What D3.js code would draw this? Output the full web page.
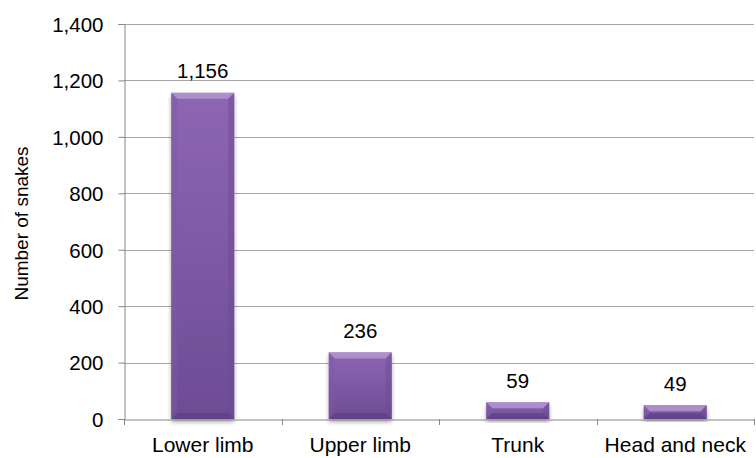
<!DOCTYPE html>
<html>
<head>
<meta charset="utf-8">
<script src="https://cdn.jsdelivr.net/npm/d3@7"></script>
<style>
  html, body { margin: 0; padding: 0; background: #fff; }
  svg { display: block; font-family: "Liberation Sans", Arial, sans-serif; }
</style>
</head>
<body>
<svg id="chart" width="756" height="458"></svg>
<script>
// Bite site of snakes
const categories = ["Lower limb", "Upper limb", "Trunk", "Head and neck"];
const counts = [1156, 236, 59, 49];
const yTicks = [0, 200, 400, 600, 800, 1000, 1200, 1400];

const svg = d3.select("#chart");
const margin = { left: 124, right: 2, top: 24, bottom: 39 };
const W = 756, H = 458;
const FONT = "Liberation Sans, Arial, sans-serif";

const x = d3.scaleBand()
  .domain(categories)
  .range([margin.left, W - margin.right])
  .paddingInner(0.6)
  .paddingOuter(0.3);

const y = d3.scaleLinear()
  .domain([0, 1400])
  .range([H - margin.bottom, margin.top]);

const fmt = d3.format(",");

// defs: bar gradient and shadow
const defs = svg.append("defs");
const grad = defs.append("linearGradient")
  .attr("id", "barFill").attr("x1", 0).attr("y1", 0).attr("x2", 0).attr("y2", 1);
grad.append("stop").attr("offset", "0%").attr("stop-color", "#8e66b3");
grad.append("stop").attr("offset", "100%").attr("stop-color", "#6d4c94");

const shadow = defs.append("filter").attr("id", "shadow")
  .attr("x", "-20%").attr("y", "-20%").attr("width", "140%").attr("height", "140%");
shadow.append("feGaussianBlur").attr("in", "SourceAlpha").attr("stdDeviation", 2.2);
shadow.append("feOffset").attr("dx", 0).attr("dy", 3).attr("result", "blur");
shadow.append("feComponentTransfer").append("feFuncA").attr("type", "linear").attr("slope", 0.35);
const merge = shadow.append("feMerge");
merge.append("feMergeNode");
merge.append("feMergeNode").attr("in", "SourceGraphic");

// gridlines
svg.append("g")
  .selectAll("line")
  .data(yTicks.filter(d => d > 0))
  .join("line")
  .attr("x1", margin.left).attr("x2", W - margin.right)
  .attr("y1", d => Math.round(y(d)) + 0.5).attr("y2", d => Math.round(y(d)) + 0.5)
  .attr("stroke", "#a6a6a6").attr("stroke-width", 1);

// y axis
const yAxis = svg.append("g")
  .attr("transform", `translate(${margin.left + 0.5},0)`)
  .call(d3.axisLeft(y).tickValues(yTicks).tickFormat(fmt).tickSize(6).tickPadding(15));
yAxis.select(".domain").attr("stroke", "#868686");
yAxis.selectAll(".tick line").attr("stroke", "#868686");
yAxis.selectAll(".tick text").attr("font-size", 20.5).attr("fill", "#000")
  .attr("font-family", FONT).attr("dy", "0.36em");

// bars
const bars = svg.append("g").selectAll("g.bar")
  .data(categories.map((c, i) => ({ c, v: counts[i] })))
  .join("g").attr("class", "bar");

bars.append("rect")
  .attr("x", d => x(d.c))
  .attr("y", d => y(d.v))
  .attr("width", x.bandwidth())
  .attr("height", d => y(0) - y(d.v))
  .attr("fill", "url(#barFill)")
  .attr("filter", "url(#shadow)");

// bevel edges: light top, shaded sides and bottom
bars.each(function (d) {
  const g = d3.select(this);
  const x0 = x(d.c), x1 = x0 + x.bandwidth();
  const top = y(d.v), bot = y(0);
  const b = Math.min(6, (bot - top) / 2);
  g.append("path")
    .attr("d", `M${x0},${top}L${x1},${top}L${x1 - b},${top + b}L${x0 + b},${top + b}Z`)
    .attr("fill", "#b196cf").attr("opacity", 0.85);
  g.append("path")
    .attr("d", `M${x0},${top}L${x0 + b},${top + b}L${x0 + b},${bot - b}L${x0},${bot}Z`)
    .attr("fill", "#7d5aa3").attr("opacity", 0.45);
  g.append("path")
    .attr("d", `M${x1},${top}L${x1 - b},${top + b}L${x1 - b},${bot - b}L${x1},${bot}Z`)
    .attr("fill", "#6a4b90").attr("opacity", 0.45);
  g.append("path")
    .attr("d", `M${x0},${bot}L${x1},${bot}L${x1 - b},${bot - b}L${x0 + b},${bot - b}Z`)
    .attr("fill", "#5a3d7e").attr("opacity", 0.55);
});

// value labels
bars.append("text")
  .attr("x", d => x(d.c) + x.bandwidth() / 2)
  .attr("y", d => y(d.v) - 14.5)
  .attr("text-anchor", "middle")
  .attr("font-size", 20.5)
  .attr("fill", "#000")
  .text(d => fmt(d.v));

// x axis
const xAxis = svg.append("g")
  .attr("transform", `translate(0,${Math.round(y(0)) + 0.5})`)
  .call(d3.axisBottom(x).tickSize(0).tickPadding(0));
xAxis.select(".domain").attr("stroke", "#868686");
xAxis.selectAll(".tick text").attr("font-size", 21).attr("fill", "#000")
  .attr("font-family", FONT).attr("dy", 0).attr("y", 32.5);

// tick marks at category boundaries
const step = x.step();
const bounds = d3.range(categories.length + 1).map(i => margin.left + i * step);
svg.append("g").selectAll("line").data(bounds).join("line")
  .attr("x1", d => Math.round(d) + 0.5).attr("x2", d => Math.round(d) + 0.5)
  .attr("y1", Math.round(y(0))).attr("y2", Math.round(y(0)) + 6)
  .attr("stroke", "#868686");

// y axis title
svg.append("text")
  .attr("transform", `translate(27.5,${(y(0) + y(1400)) / 2 + 2}) rotate(-90)`)
  .attr("text-anchor", "middle")
  .attr("font-size", 19)
  .attr("fill", "#000")
  .text("Number of snakes");
</script>
</body>
</html>
